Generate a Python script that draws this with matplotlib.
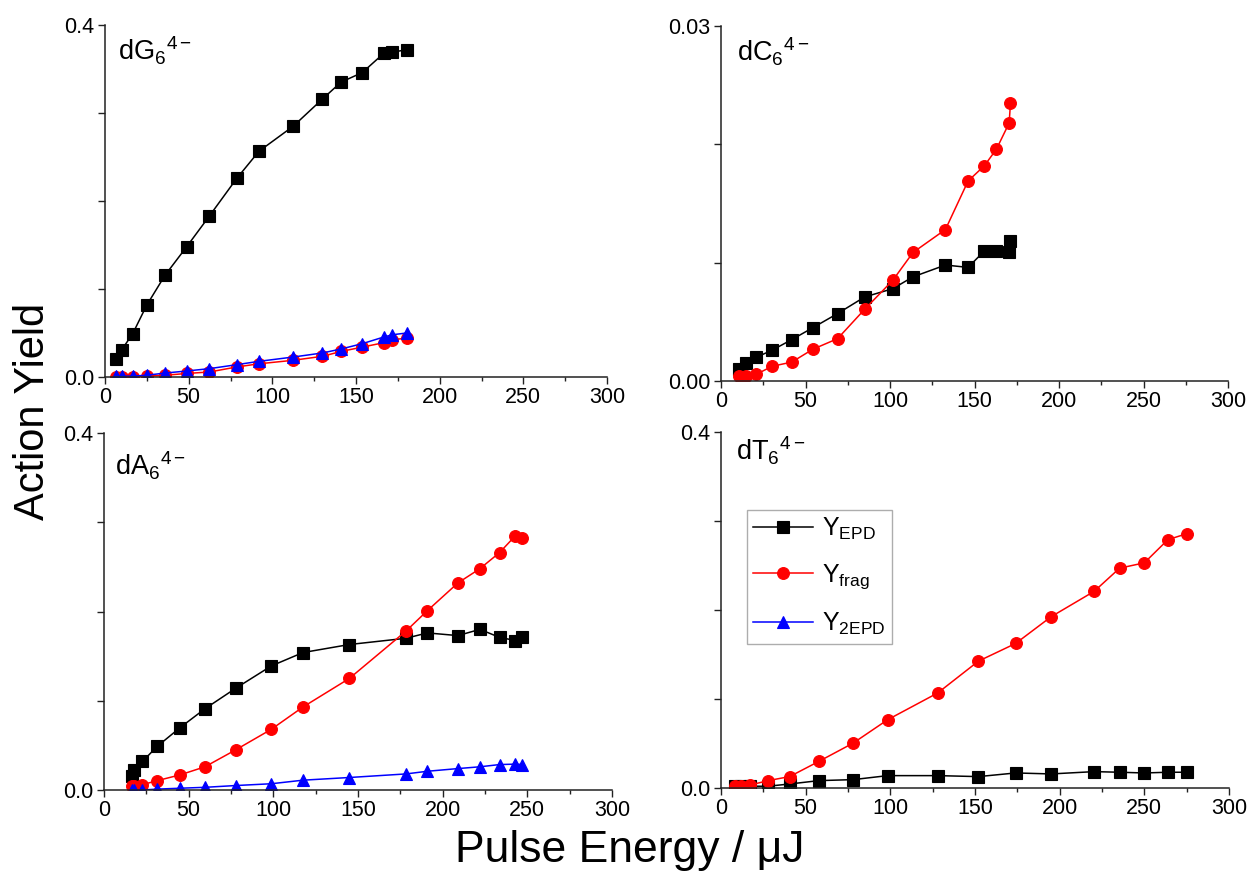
import matplotlib
matplotlib.use("Agg")
import matplotlib.pyplot as plt
from matplotlib.ticker import MultipleLocator, FixedLocator, FixedFormatter

plt.rcParams['font.family'] = ['Liberation Sans', 'DejaVu Sans']
plt.rcParams['mathtext.fontset'] = 'custom'
plt.rcParams['mathtext.rm'] = 'Liberation Sans'
plt.rcParams['mathtext.it'] = 'Liberation Sans:italic'
plt.rcParams['mathtext.bf'] = 'Liberation Sans:bold'

# ---------------- data ----------------
# dG6 4-
dG_x = [6.4, 10, 16.5, 24.9, 35.9, 48.8, 62.4, 78.7, 92, 112.5, 129.9, 141, 153.8, 166.7, 171.7, 180.3]
dG_epd = [0.021, 0.031, 0.049, 0.0815, 0.1157, 0.148, 0.183, 0.2256, 0.2565, 0.285, 0.3158, 0.335, 0.346, 0.368, 0.369, 0.372]
dG_frag = [0.0, 0.0, 0.0005, 0.001, 0.002, 0.004, 0.0057, 0.0114, 0.015, 0.019, 0.0235, 0.029, 0.034, 0.039, 0.0425, 0.044]
dG_2epd = [0.001, 0.001, 0.001, 0.002, 0.0045, 0.0068, 0.0095, 0.014, 0.0178, 0.0227, 0.0273, 0.0318, 0.0379, 0.0455, 0.048, 0.050]

# dC6 4-
dC_x = [10.5, 14.8, 20.8, 30.2, 41.9, 54.3, 69, 85, 101.6, 113.6, 132.8, 146.2, 155.9, 163, 170.5, 171.3]
dC_epd = [0.00104, 0.0015, 0.002, 0.0026, 0.0035, 0.0045, 0.0057, 0.0071, 0.0078, 0.0088, 0.0098, 0.0096, 0.011, 0.011, 0.01086, 0.0118]
dC_frag = [0.00045, 0.00045, 0.00056, 0.00124, 0.0016, 0.00268, 0.00358, 0.00606, 0.0085, 0.01086, 0.0128, 0.0169, 0.0182, 0.0196, 0.0218, 0.0235]

# dA6 4-
dA_x = [16.4, 17.5, 22.7, 31.5, 45, 59.6, 77.8, 98.8, 117.5, 144.9, 178.3, 191, 209, 222, 233.6, 243, 247]
dA_epd = [0.016, 0.022, 0.032, 0.049, 0.070, 0.091, 0.114, 0.139, 0.154, 0.163, 0.170, 0.176, 0.173, 0.180, 0.171, 0.1675, 0.171]
dA_frag = [0.005, 0.005, 0.006, 0.0105, 0.017, 0.026, 0.045, 0.068, 0.093, 0.125, 0.178, 0.201, 0.232, 0.248, 0.266, 0.285, 0.282]
dA_2epd = [0.0, 0.0, 0.0, 0.001, 0.002, 0.003, 0.005, 0.007, 0.011, 0.014, 0.018, 0.021, 0.024, 0.026, 0.0285, 0.029, 0.0285]

# dT6 4-
dT_x = [8, 11.6, 17.4, 27.8, 40.5, 57.9, 78, 98.4, 128, 152, 174, 195, 220.4, 235.4, 250, 263.9, 275]
dT_epd = [0.002, 0.002, 0.002, 0.002, 0.0045, 0.0083, 0.0094, 0.0139, 0.0139, 0.0128, 0.0169, 0.0158, 0.0184, 0.0177, 0.0169, 0.0177, 0.0177]
dT_frag = [0.0026, 0.0026, 0.0034, 0.0083, 0.0128, 0.030, 0.0504, 0.0767, 0.1068, 0.1425, 0.1624, 0.1925, 0.221, 0.247, 0.253, 0.279, 0.2857]

panel_labels = [r'$\mathregular{dG_6{}^{4-}}$', r'$\mathregular{dC_6{}^{4-}}$',
                r'$\mathregular{dA_6{}^{4-}}$', r'$\mathregular{dT_6{}^{4-}}$']
series_labels = [r'$\mathregular{Y_{EPD}}$', r'$\mathregular{Y_{frag}}$', r'$\mathregular{Y_{2EPD}}$']
x_ticks = [0, 50, 100, 150, 200, 250, 300]

# ---------------- figure ----------------
W, H = 1255, 880
fig = plt.figure(figsize=(W / 100, H / 100), dpi=100)

def ax_at(x0, y0, x1, y1):
    return fig.add_axes([x0 / W, 1 - y1 / H, (x1 - x0) / W, (y1 - y0) / H])

axTL = ax_at(105, 25, 607, 377)
axTR = ax_at(721, 26, 1228, 381)
axBL = ax_at(104, 433, 612, 790)
axBR = ax_at(721, 432, 1229, 788)

lw = 1.1
sty = dict(lw=lw, markersize=8.5, markeredgewidth=0.8)

def style(ax, ymax, ystep, ylabels):
    ax.set_xlim(0, 300)
    ax.set_ylim(0, ymax)
    for s in ['top', 'right']:
        ax.spines[s].set_visible(False)
    for s in ['left', 'bottom']:
        ax.spines[s].set_linewidth(1.1)
        ax.spines[s].set_color('#222222')
    ax.xaxis.set_major_locator(FixedLocator(x_ticks))
    ax.xaxis.set_minor_locator(MultipleLocator(25))
    yt = [i * ystep for i in range(len(ylabels))]
    ax.yaxis.set_major_locator(FixedLocator(yt))
    ax.yaxis.set_major_formatter(FixedFormatter(ylabels))
    ax.tick_params(which='major', direction='out', length=5, width=1.0, labelsize=15.5,
                   color='#222222', pad=2.5)
    ax.tick_params(which='minor', direction='out', length=3, width=1.0, color='#222222')
    ax.set_facecolor('none')

# top-left dG
axTL.plot(dG_x, dG_epd, color='black', marker='s', **sty)
axTL.plot(dG_x, dG_frag, color='red', marker='o', **sty)
axTL.plot(dG_x, dG_2epd, color='blue', marker='^', **sty)
style(axTL, 0.4, 0.1, ['0.0', '', '', '', '0.4'])

# top-right dC
axTR.plot(dC_x, dC_epd, color='black', marker='s', **sty)
axTR.plot(dC_x, dC_frag, color='red', marker='o', **sty)
style(axTR, 0.03, 0.01, ['0.00', '', '', '0.03'])

# bottom-left dA
axBL.plot(dA_x, dA_epd, color='black', marker='s', **sty)
axBL.plot(dA_x, dA_frag, color='red', marker='o', **sty)
axBL.plot(dA_x, dA_2epd, color='blue', marker='^', **sty)
style(axBL, 0.4, 0.1, ['0.0', '', '', '', '0.4'])

# bottom-right dT
h1, = axBR.plot(dT_x, dT_epd, color='black', marker='s', **sty)
h2, = axBR.plot(dT_x, dT_frag, color='red', marker='o', **sty)
h3, = axBR.plot([], [], color='blue', marker='^', **sty)
style(axBR, 0.4, 0.1, ['0.0', '', '', '', '0.4'])

label_pos = [(axTL, 0.026, 0.90), (axTR, 0.031, 0.90), (axBL, 0.022, 0.88), (axBR, 0.03, 0.92)]
for (ax, lx, ly), lab in zip(label_pos, panel_labels):
    ax.text(lx, ly, lab, transform=ax.transAxes, fontsize=19.5, va='baseline', ha='left')

leg = axBR.legend([h1, h2, h3], series_labels, loc='upper left',
                  bbox_to_anchor=(0.051, 0.781), fontsize=18, frameon=True,
                  fancybox=False, edgecolor='#999999', handlelength=2.4,
                  labelspacing=0.8, borderpad=0.25, handletextpad=0.35, borderaxespad=0)
leg.get_frame().set_linewidth(1.0)

fig.text(0.026, 1 - 411 / H, 'Action Yield', rotation=90, fontsize=30, ha='center', va='center')
fig.text(0.502, 0.034, 'Pulse Energy / μJ', fontsize=32, ha='center', va='center')

fig.savefig('out.png', dpi=100)
